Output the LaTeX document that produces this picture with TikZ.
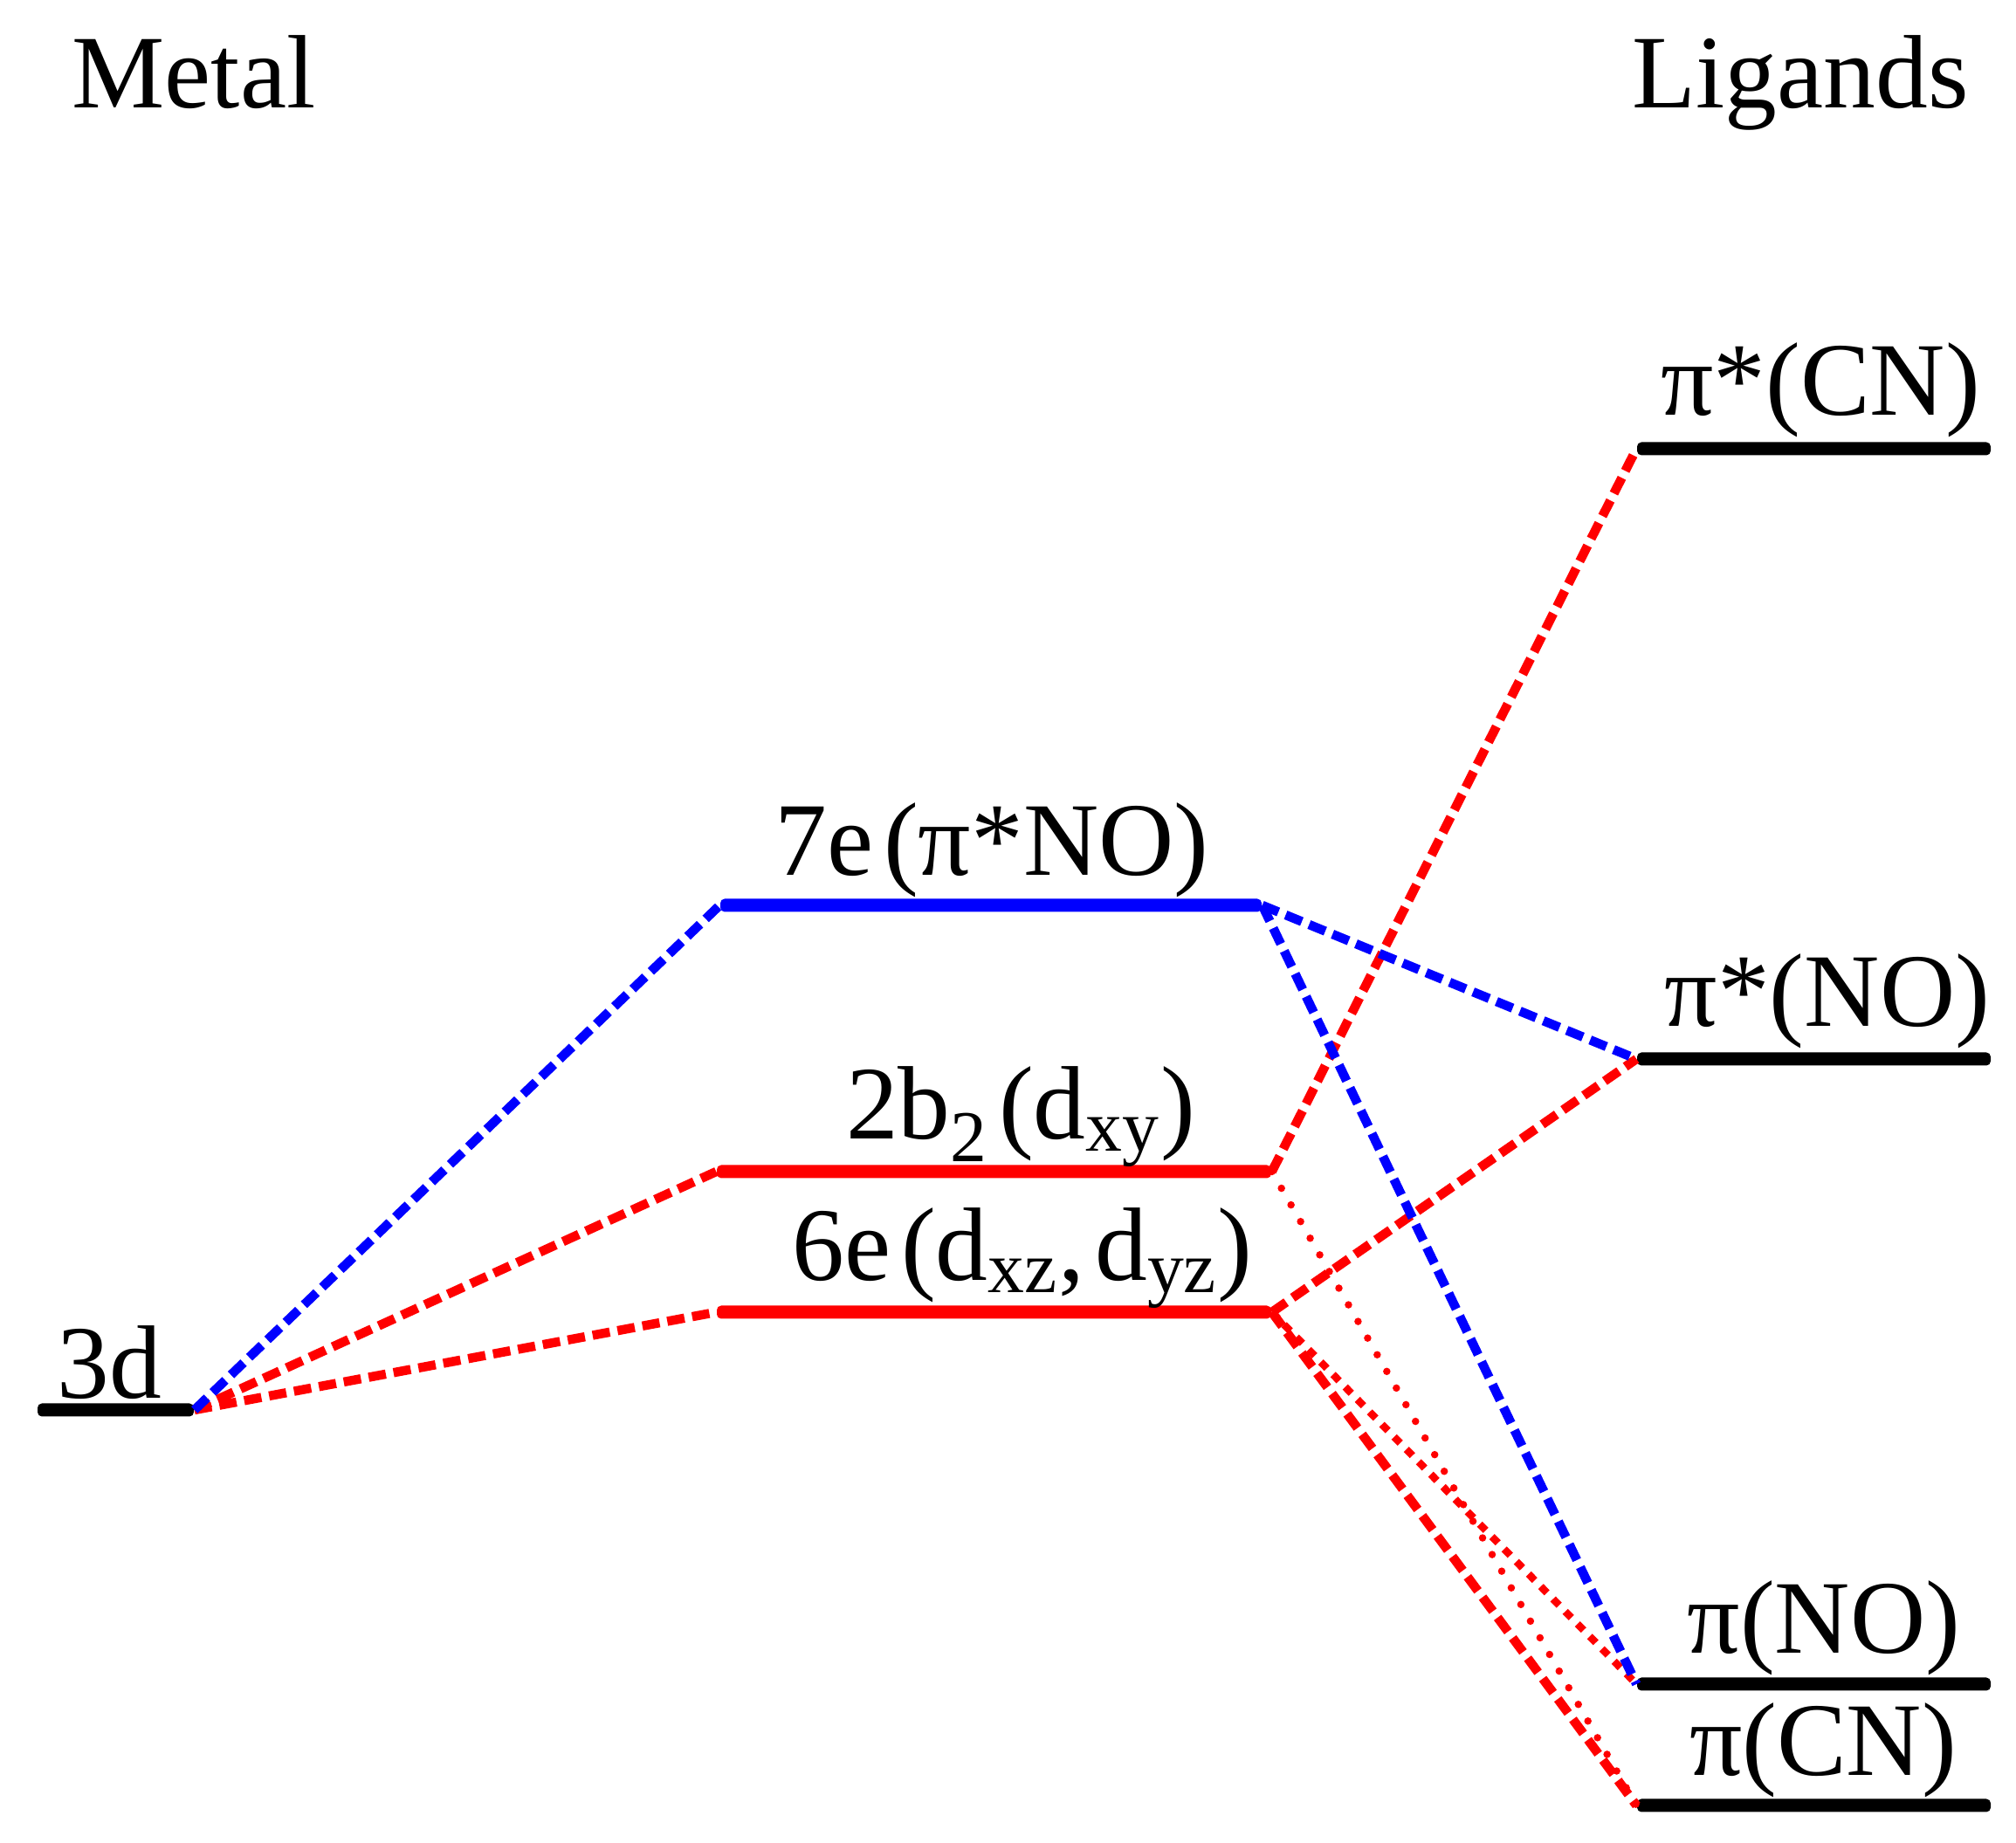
\documentclass[tikz,border=0pt]{standalone}
\usepackage{fontspec}
\setmainfont[WordSpace=0.4]{Liberation Serif}

\tikzset{
  level/.style={rectangle, inner sep=0pt, minimum height=0.15cm, rounded corners=0.05cm},
  txt/.style={anchor=base, inner sep=0pt, font=\fontsize{34}{40}\selectfont},
  dsh/.style={line width=0.105cm, dash pattern=on 0.20cm off 0.09cm},
  smalldsh/.style={line width=0.085cm, dash pattern=on 0.10cm off 0.10cm},
  dot/.style={line width=0.085cm, line cap=round, dash pattern=on 0pt off 0.22cm}
}

\begin{document}
\begin{tikzpicture}
  \useasboundingbox (0cm,0cm) rectangle (23.09cm,21.11cm);

  %Energieniveaus
  \foreach \name/\x/\y/\w/\col in {d3/1.325/4.96/1.79/black,
                                   e7/11.35/10.74/6.20/blue,
                                   b2/11.385/7.69/6.35/red,
                                   e6/11.385/6.08/6.35/red,
                                   pcnstar/20.775/15.97/4.05/black,
                                   pnostar/20.775/8.98/4.05/black,
                                   pno/20.775/1.82/4.05/black,
                                   pcn/20.775/0.43/4.05/black}
    \node[level, fill=\col, minimum width=\w cm] (\name) at (\x cm,\y cm) {};

  %Beschriftung
  \node[txt] (metal) at (2.22cm,19.87cm) {Metal};
  \node[txt] (ligands) at (20.62cm,19.87cm) {Ligands};
  \node[txt] (d3txt) at (1.25cm,5.09cm) {3d};
  \node[txt] (e7txt) at (11.36cm,11.08cm) {7e (π*NO)};
  \node[txt] (b2txt) at (11.69cm,8.06cm) {2b\textsubscript{2} (d\textsubscript{xy})};
  \node[txt] (e6txt) at (11.71cm,6.44cm) {6e (d\textsubscript{xz}, d\textsubscript{yz})};
  \node[txt] (pcnstartxt) at (20.85cm,16.35cm) {π*(CN)};
  \node[txt] (pnostartxt) at (20.93cm,9.35cm) {π*(NO)};
  \node[txt] (pnotxt) at (20.89cm,2.17cm) {π(NO)};
  \node[txt] (pcntxt) at (20.88cm,0.77cm) {π(CN)};

  %Verbindungen
  \foreach \a/\b in {d3.east/b2.west, d3.east/e6.west, b2.east/pcnstar.west, e6.east/pnostar.west, e6.east/pcn.west}
    \draw[red, dsh] (\a) -- (\b);
  \draw[red, smalldsh] (e6.east) -- (pno.west);
  \draw[red, dot] (b2.east) -- (pcn.west);
  \foreach \a/\b in {d3.east/e7.west, e7.east/pnostar.west, e7.east/pno.west}
    \draw[blue, dsh] (\a) -- (\b);
\end{tikzpicture}
\end{document}
